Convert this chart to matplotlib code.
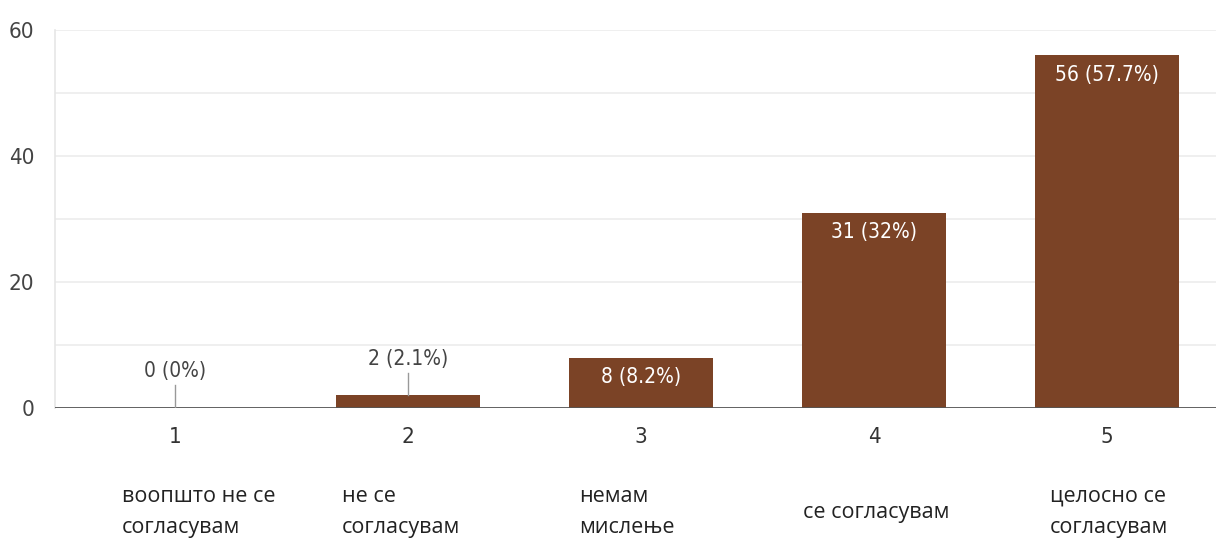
import matplotlib.pyplot as plt
import numpy as np

# Survey answers (1-5 scale) and counts
categories = ['1', '2', '3', '4', '5']
descriptions = ['воопшто не се\nсогласувам', 'не се\nсогласувам', 'немам\nмислење',
                'се согласувам', 'целосно се\nсогласувам']
counts = np.array([0, 2, 8, 31, 56])
percents = ['0%', '2.1%', '8.2%', '32%', '57.7%']

bar_color = '#7b4326'
narrow = dict(family='DejaVu Sans', stretch='condensed')

fig = plt.figure(figsize=(12.16, 5.41), dpi=100)
ax = fig.add_axes([0.0452, 0.2458, 0.9548, 0.6987])

x = np.arange(len(categories))
ax.bar(x, counts, width=0.615, color=bar_color, zorder=3)

ax.set_xlim(-0.514, 4.467)
ax.set_ylim(0, 60)
ax.set_yticks([0, 20, 40, 60])
ax.set_yticks([10, 30, 50], minor=True)
ax.grid(axis='y', which='both', color='#ececec', linewidth=1.2, zorder=0)
ax.tick_params(axis='y', which='both', length=0, pad=15, labelcolor='#444444')
for lab in ax.get_yticklabels():
    lab.set_fontproperties(dict(size=16, **narrow))
ax.set_xticks([])

for s in ['top', 'right', 'bottom']:
    ax.spines[s].set_visible(False)
ax.spines['left'].set_color('#e6e6e6')
ax.spines['left'].set_linewidth(1.2)
ax.axhline(0, color='#555555', linewidth=2, zorder=4)

# value labels
for xi, c, p in zip(x, counts, percents):
    txt = f'{c} ({p})'
    if c < 5:
        ax.plot([xi, xi], [c, c + 3.6], color='#999999', linewidth=1, zorder=4)
        ax.text(xi, c + 5.8, txt, ha='center', va='center', fontsize=15,
                color='#444444', **narrow)
    else:
        ax.annotate(txt, (xi, c), xytext=(0, -7), textcoords='offset points',
                    ha='center', va='top', fontsize=15, color='white', **narrow)

# category numbers below axis
for xi, cat in zip(x, categories):
    ax.annotate(cat, (xi, 0), xytext=(0, -21), textcoords='offset points',
                ha='center', va='center', fontsize=16, color='#333333', **narrow)

# descriptive labels (left-aligned blocks)
desc_offsets = [-0.227, -0.283, -0.265, -0.305, -0.245]
for xi, d, off in zip(x, descriptions, desc_offsets):
    ax.annotate(d, (xi + off, 0), xytext=(0, -75), textcoords='offset points',
                ha='left', va='center', fontsize=15.5, color='#222222',
                family='Open Sans', multialignment='left', linespacing=1.65)

fig.savefig('out.png', dpi=100)
